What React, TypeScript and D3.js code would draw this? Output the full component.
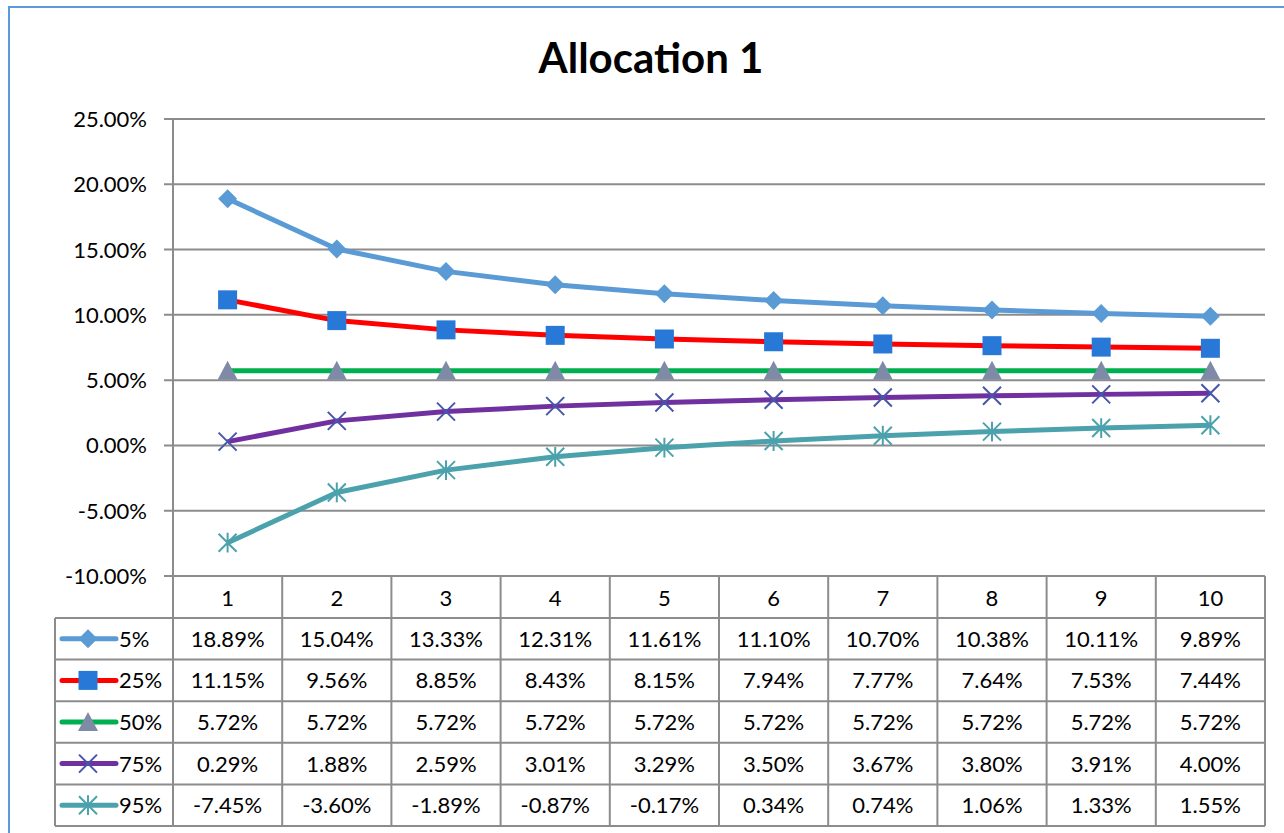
import React from "react";
import * as d3 from "d3";

const categories = ["1", "2", "3", "4", "5", "6", "7", "8", "9", "10"];
const seriesNames = ["5%", "25%", "50%", "75%", "95%"];
const p5 = [18.89, 15.04, 13.33, 12.31, 11.61, 11.10, 10.70, 10.38, 10.11, 9.89];
const p25 = [11.15, 9.56, 8.85, 8.43, 8.15, 7.94, 7.77, 7.64, 7.53, 7.44];
const p50 = [5.72, 5.72, 5.72, 5.72, 5.72, 5.72, 5.72, 5.72, 5.72, 5.72];
const p75 = [0.29, 1.88, 2.59, 3.01, 3.29, 3.50, 3.67, 3.80, 3.91, 4.00];
const p95 = [-7.45, -3.60, -1.89, -0.87, -0.17, 0.34, 0.74, 1.06, 1.33, 1.55];
const yTicks = [-10, -5, 0, 5, 10, 15, 20, 25];

const seriesData = [p5, p25, p50, p75, p95];
const lineColors = ["#5b9bd5", "#ff0000", "#00b050", "#7030a0", "#4ba2ac"];
const markerColors = ["#5b9bd5", "#2878d8", "#7f8ba6", "#4656a8", "#4ba2ac"];
const markerTypes = ["diamond", "square", "triangle", "x", "star"];

const FONT = "Lato, 'Open Sans', sans-serif";

function Marker({ type, x, y, color }: { type: string; x: number; y: number; color: string }) {
  if (type === "diamond") {
    const s = 9.5;
    return <path d={`M${x},${y - s}L${x + s},${y}L${x},${y + s}L${x - s},${y}Z`} fill={color} />;
  }
  if (type === "square") {
    const s = 9.5;
    return <rect x={x - s} y={y - s} width={2 * s} height={2 * s} fill={color} />;
  }
  if (type === "triangle") {
    const s = 10;
    return <path d={`M${x},${y - s}L${x + s},${y + s * 0.9}L${x - s},${y + s * 0.9}Z`} fill={color} />;
  }
  if (type === "x") {
    const s = 9;
    return (
      <path d={`M${x - s},${y - s}L${x + s},${y + s}M${x - s},${y + s}L${x + s},${y - s}`} stroke={color} strokeWidth={2} />
    );
  }
  const s = 9;
  return (
    <path
      d={`M${x - s},${y - s}L${x + s},${y + s}M${x - s},${y + s}L${x + s},${y - s}M${x},${y - s * 1.1}L${x},${y + s * 1.1}`}
      stroke={color}
      strokeWidth={2}
    />
  );
}

export default function App() {
  const W = 1284;
  const H = 833;
  const left = 173;
  const right = 1265;
  const top = 119;
  const bottom = 576;
  const legendLeft = 55;
  const rowH = 41.6;
  const headerH = 42;

  const y = d3.scaleLinear().domain([-10, 25]).range([bottom, top]);
  const xb = d3.scaleBand().domain(categories).range([left, right]);
  const xc = (c: string) => (xb(c) as number) + xb.bandwidth() / 2;

  const line = d3
    .line<number>()
    .x((_, i) => xc(categories[i]))
    .y((d) => y(d));

  const gridColor = "#8c8c8c";
  const tableTop = bottom;
  const tableBottom = tableTop + headerH + rowH * seriesNames.length;
  const FS = 22;

  return (
    <div style={{ position: "absolute", left: 0, top: 0 }}>
      <svg width={W} height={H} style={{ display: "block" }}>
        <rect x={0} y={0} width={W} height={H} fill="#fff" />
        <rect x={9} y={7} width={W + 10} height={H + 10} fill="none" stroke="#5b9bd5" strokeWidth={2} />
        <text x={651} y={73} textAnchor="middle" fontFamily={FONT} fontWeight="bold" fontSize={42} fill="#000">
          Allocation 1
        </text>
        {/* gridlines */}
        {yTicks.map((t) => (
          <g key={t}>
            <line x1={164} x2={right} y1={y(t)} y2={y(t)} stroke={gridColor} strokeWidth={2} />
            <text x={147} y={y(t) + 8} textAnchor="end" fontFamily={FONT} fontSize={FS} fill="#000">
              {t.toFixed(2)}%
            </text>
          </g>
        ))}
        <line x1={left} x2={left} y1={top} y2={bottom} stroke={gridColor} strokeWidth={2} />
        {/* table */}
        <g stroke={gridColor} strokeWidth={2} fill="none">
          <line x1={left} x2={right} y1={tableTop + headerH} y2={tableTop + headerH} />
          {seriesNames.map((_, i) => (
            <line key={i} x1={legendLeft} x2={right} y1={tableTop + headerH + rowH * (i + 1)} y2={tableTop + headerH + rowH * (i + 1)} />
          ))}
          <line x1={legendLeft} x2={right} y1={tableTop + headerH} y2={tableTop + headerH} />
          <line x1={legendLeft} x2={legendLeft} y1={tableTop + headerH} y2={tableBottom} />
          {categories.map((c) => (
            <line key={c} x1={xb(c) as number} x2={xb(c) as number} y1={tableTop} y2={tableBottom} />
          ))}
          <line x1={right} x2={right} y1={tableTop} y2={tableBottom} />
        </g>
        {categories.map((c) => (
          <text key={c} x={xc(c)} y={tableTop + 30} textAnchor="middle" fontFamily={FONT} fontSize={FS} fill="#000">
            {c}
          </text>
        ))}
        {seriesNames.map((name, si) => {
          const ry = tableTop + headerH + rowH * si;
          const cy = ry + rowH / 2;
          return (
            <g key={name}>
              <line x1={62} x2={116} y1={cy} y2={cy} stroke={lineColors[si]} strokeWidth={5} strokeLinecap="round" />
              <Marker type={markerTypes[si]} x={88} y={cy} color={markerColors[si]} />
              <text x={119} y={cy + 8} fontFamily={FONT} fontSize={FS} fill="#000">
                {name}
              </text>
              {seriesData[si].map((v, i) => (
                <text key={i} x={xc(categories[i])} y={cy + 8} textAnchor="middle" fontFamily={FONT} fontSize={FS} fill="#000">
                  {v.toFixed(2)}%
                </text>
              ))}
            </g>
          );
        })}
        {/* series */}
        {seriesData.map((vals, si) => (
          <g key={si}>
            <path d={line(vals) as string} fill="none" stroke={lineColors[si]} strokeWidth={5} strokeLinejoin="round" />
            {vals.map((v, i) => (
              <Marker key={i} type={markerTypes[si]} x={xc(categories[i])} y={y(v)} color={markerColors[si]} />
            ))}
          </g>
        ))}
      </svg>
    </div>
  );
}
